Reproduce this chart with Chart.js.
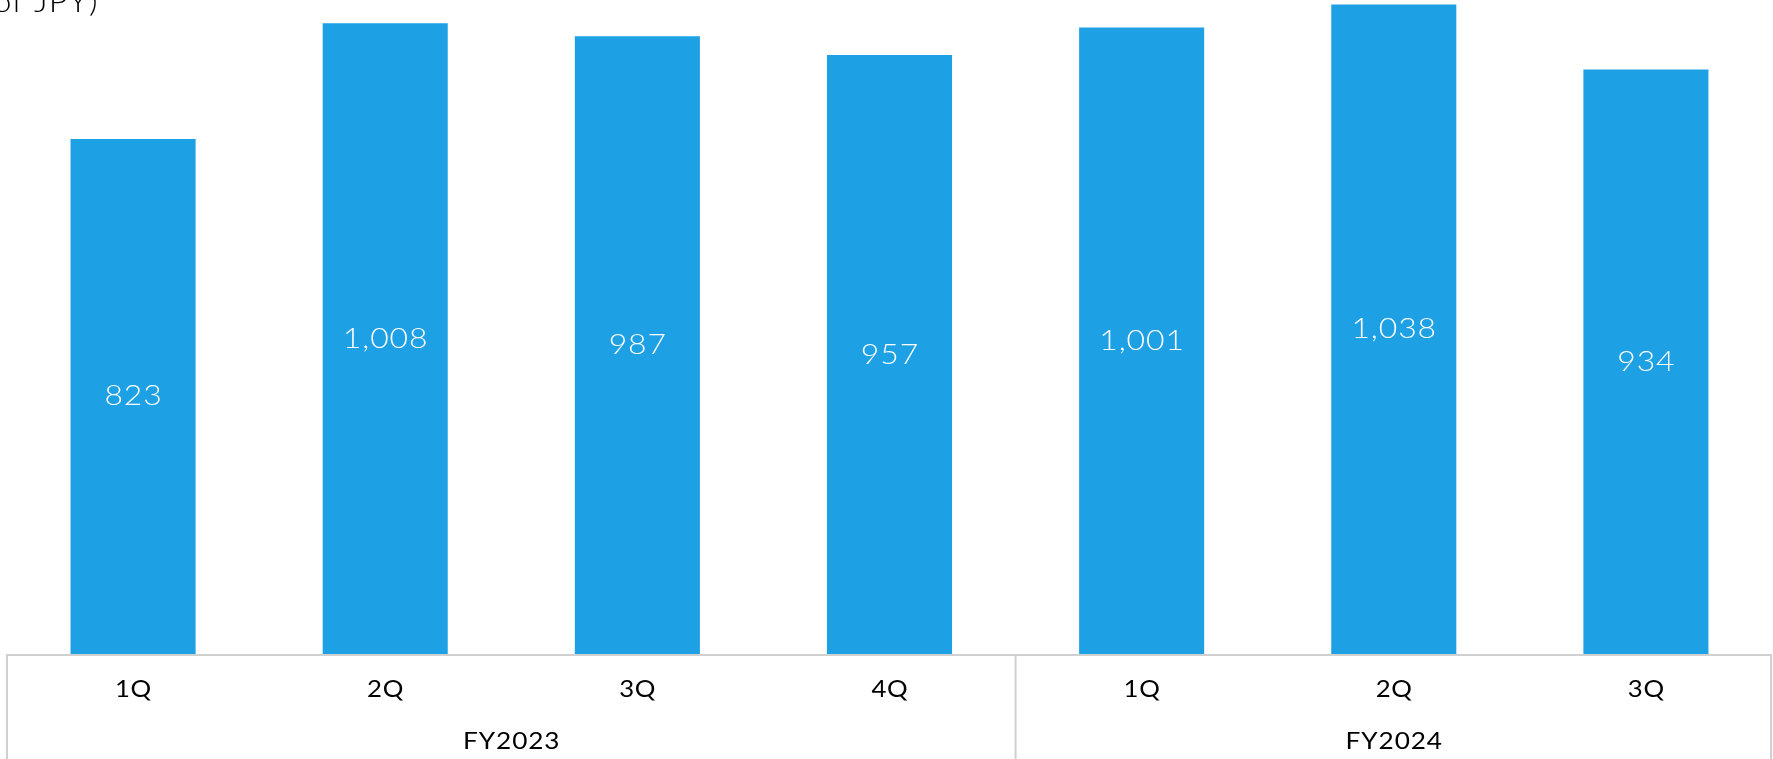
<!DOCTYPE html>
<html>
<head>
<meta charset="utf-8">
<script src="https://cdn.jsdelivr.net/npm/chart.js@4"></script>
<style>
html,body{margin:0;padding:0;background:#fff;}
#wrap{width:1773px;height:759px;position:relative;}
</style>
</head>
<body>
<div id="wrap"><canvas id="c" width="1773" height="759"></canvas></div>
<script>
const quarters = ['1Q','2Q','3Q','4Q','1Q','2Q','3Q'];
const fiscalYears = ['FY2023','FY2024'];
const quartersPerYear = [4,3];
const values = [823,1008,987,957,1001,1038,934];
const unitLabel = '(Billions of JPY)';

const FONT = 'Lato, "Open Sans", sans-serif';
const BAR = '#1da1e4';
const FRAME = '#d0d0d0';

function textW(ctx, str, x, y, sx, sp){
  ctx.save();
  ctx.translate(x, y);
  ctx.scale(sx, 1);
  ctx.letterSpacing = sp + 'px';
  ctx.fillText(str, sp/2, 0);
  ctx.restore();
}

const overlay = {
  id:'overlay',
  afterDatasetsDraw(chart){
    const ctx = chart.ctx;
    const x = chart.scales.x;
    const area = chart.chartArea;
    const meta = chart.getDatasetMeta(0);
    const H = chart.height;
    const catW = x.getPixelForValue(1) - x.getPixelForValue(0);
    const left = x.getPixelForValue(0) - catW/2;
    const right = x.getPixelForValue(quarters.length-1) + catW/2;
    ctx.save();
    // value labels
    ctx.fillStyle = '#ffffff';
    ctx.font = '300 28px ' + FONT;
    ctx.textAlign = 'center';
    ctx.textBaseline = 'middle';
    meta.data.forEach((bar,i)=>{
      textW(ctx, values[i].toLocaleString('en-US'), bar.x, (bar.y + bar.base)/2, 1.14, 0.8);
    });
    // frame
    ctx.strokeStyle = FRAME;
    ctx.lineWidth = 2;
    ctx.beginPath();
    ctx.moveTo(left, area.bottom+1); ctx.lineTo(right, area.bottom+1);
    ctx.moveTo(left, area.bottom); ctx.lineTo(left, H);
    ctx.moveTo(right-1, area.bottom); ctx.lineTo(right-1, H);
    let idx = 0;
    const groupCenters = [];
    quartersPerYear.forEach((n,g)=>{
      const s = x.getPixelForValue(idx) - catW/2;
      const e = x.getPixelForValue(idx+n-1) + catW/2;
      groupCenters.push((s+e)/2);
      if (g>0){ ctx.moveTo(s, area.bottom); ctx.lineTo(s, H); }
      idx += n;
    });
    ctx.stroke();
    // quarter labels
    ctx.fillStyle = '#000000';
    ctx.font = '400 23px ' + FONT;
    quarters.forEach((q,i)=>{
      textW(ctx, q, x.getPixelForValue(i), area.bottom + 36, 1.12, 0.6);
    });
    fiscalYears.forEach((fy,g)=>{
      textW(ctx, fy, groupCenters[g], area.bottom + 88, 1.14, 0.8);
    });
    // unit label (partially clipped at top)
    ctx.font = '300 29px ' + FONT;
    ctx.textAlign = 'right';
    ctx.textBaseline = 'alphabetic';
    textW(ctx, unitLabel, 98, 12, 1.14, 0.8);
    ctx.restore();
  }
};

new Chart(document.getElementById('c'), {
  type:'bar',
  data:{
    labels: quarters.map((q,i)=>i<4 ? fiscalYears[0]+' '+q : fiscalYears[1]+' '+q),
    datasets:[{
      data: values,
      backgroundColor: BAR,
      borderWidth: 0,
      barPercentage: 0.496,
      categoryPercentage: 1.0
    }]
  },
  options:{
    responsive:false,
    animation:false,
    devicePixelRatio:1,
    layout:{padding:{left:7,right:1,top:0,bottom:105}},
    plugins:{legend:{display:false},tooltip:{enabled:false},title:{display:false}},
    scales:{
      x:{display:false, offset:true},
      y:{display:false, min:0, max:1045}
    }
  },
  plugins:[overlay]
});
</script>
</body>
</html>
